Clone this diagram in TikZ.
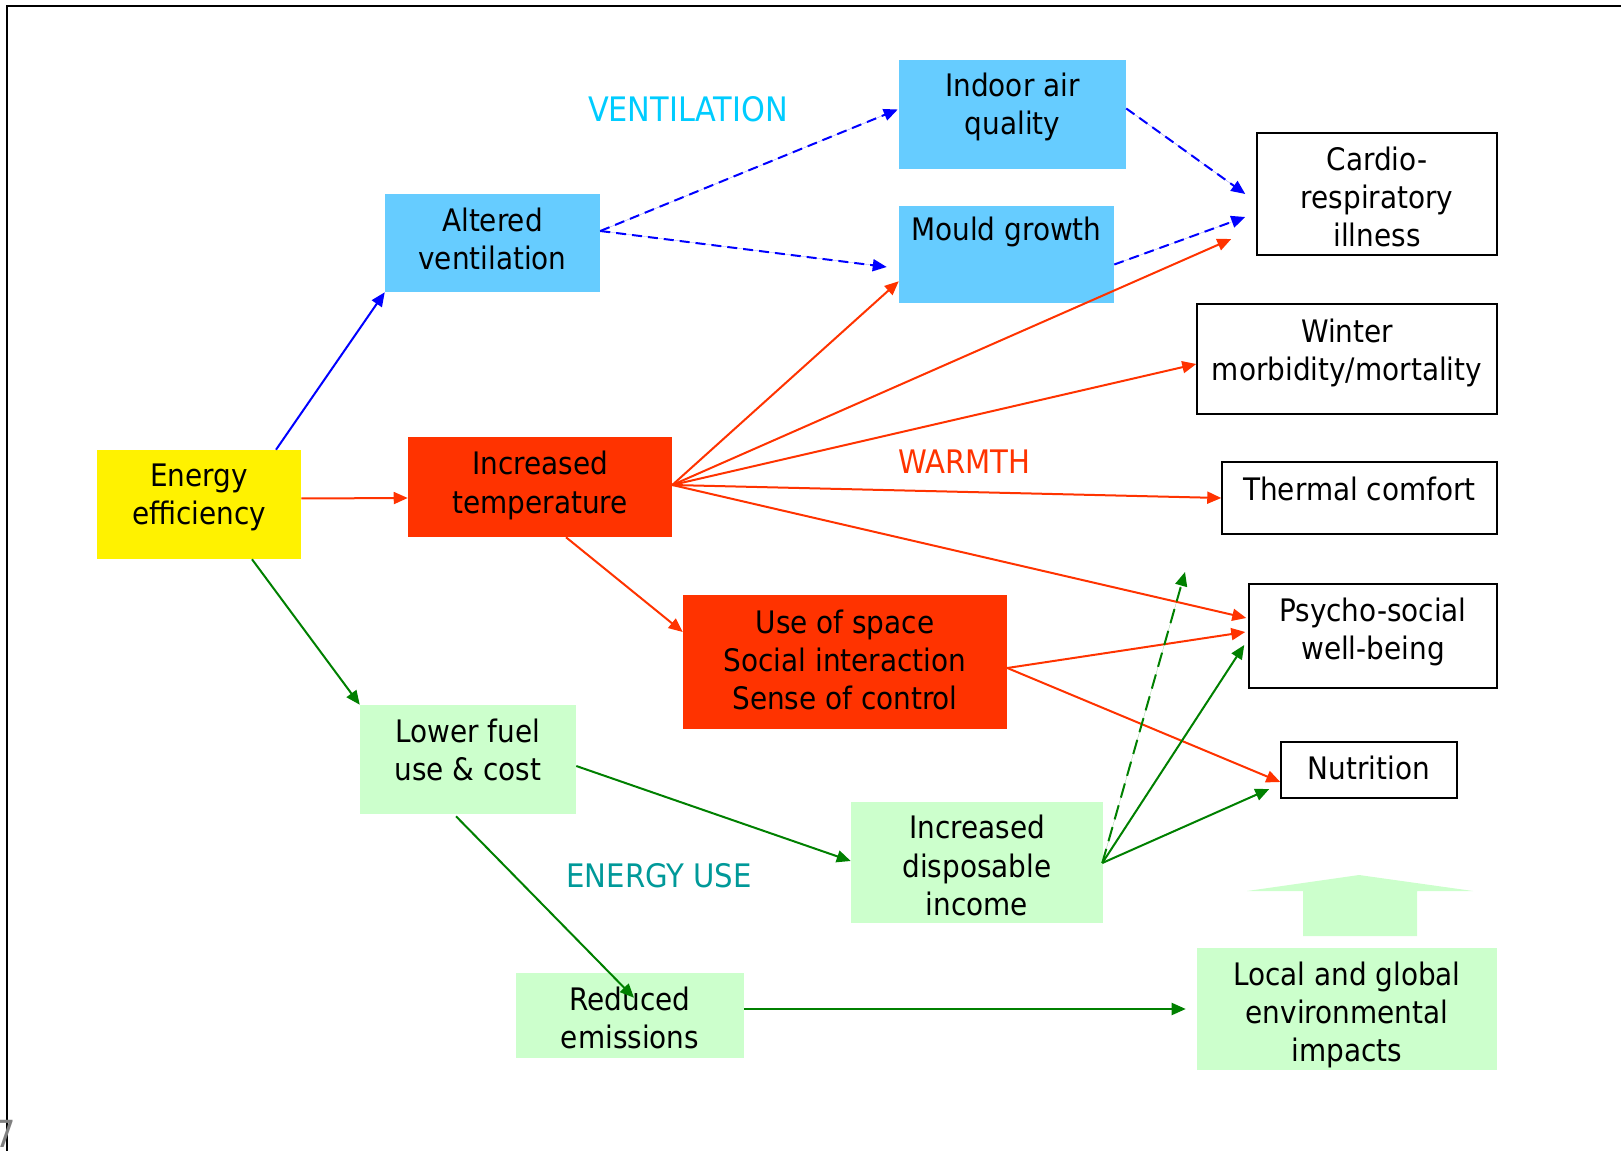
\documentclass[tikz,border=0pt]{standalone}
\usepackage{fontspec}
\setmainfont{DejaVu Sans Condensed}
\usetikzlibrary{arrows.meta,calc}
\definecolor{skyfill}{HTML}{66CCFF}
\definecolor{heatred}{HTML}{FF3300}
\definecolor{mintfill}{HTML}{CCFFCC}
\definecolor{ventcyan}{HTML}{00CCFF}
\definecolor{usetal}{HTML}{009999}
\definecolor{linkgreen}{HTML}{008000}
\definecolor{linkblue}{HTML}{0000FF}
\tikzset{
  box/.style={draw=none, inner sep=0pt},
  outcome/.style={box, draw=black, line width=1.1pt, fill=white},
  txt/.style={align=center, inner sep=0pt, font=\fontsize{23.25pt}{28.6pt}\selectfont},
  % text set inside a box, raised by #1
  boxtext/.style args={#1:#2}{label={[txt, yshift=#1]center:{#2}}},
  tip/.style={-{Triangle[length=10.5pt,width=9pt]}},
  redlink/.style={tip, draw=heatred, fill=heatred, line width=1.5pt},
  bluelink/.style={tip, draw=linkblue, fill=linkblue, line width=1.5pt},
  greenlink/.style={tip, draw=linkgreen, fill=linkgreen, line width=1.5pt},
  blueflow/.style={bluelink, dash pattern=on 7.5pt off 4.5pt},
  theme/.style={font=\fontsize{24.3pt}{28pt}\selectfont, inner sep=0pt}
}
\begin{document}
\begin{tikzpicture}[x=0.75pt,y=-0.75pt]
\useasboundingbox (0,0) rectangle (1621,1151);
% frame
\draw[line width=1.3pt] (7,1151) -- (7,6) -- (1621,6);
\node[text=gray, font=\fontsize{28pt}{30pt}\selectfont, inner sep=0pt] (pagenum) at (5,1134) {7};

% boxes (sizes in pt, centres in picture units)
\node[box, fill=yellow, minimum width=153pt, minimum height=81.75pt,
  boxtext={5.4pt:Energy\\efficiency}] (ee) at (199,504.5) {};
\node[box, fill=skyfill, minimum width=161.25pt, minimum height=73.5pt,
  boxtext={3.1pt:Altered\\ventilation}] (av) at (492.5,243) {};
\node[box, fill=skyfill, minimum width=170.25pt, minimum height=81.75pt,
  boxtext={5.4pt:Indoor air\\quality}] (iaq) at (1012.5,114.5) {};
\node[box, fill=skyfill, minimum width=161.25pt, minimum height=72.75pt,
  boxtext={17pt:Mould growth}] (mould) at (1006.5,254.5) {};
\node[outcome, minimum width=180pt, minimum height=91.5pt,
  boxtext={-2.3pt:Cardio-\\respiratory\\illness}] (cardio) at (1377,194) {};
\node[outcome, minimum width=225pt, minimum height=82.5pt,
  boxtext={4.7pt:Winter\\morbidity/mortality}] (winter) at (1347,359) {};
\node[outcome, minimum width=206.25pt, minimum height=54pt,
  boxtext={7pt:Thermal comfort}] (thermal) at (1359.5,498) {};
\node[outcome, minimum width=186pt, minimum height=78pt,
  boxtext={3.1pt:Psycho-social\\well-being}] (psycho) at (1373,636) {};
\node[outcome, minimum width=132pt, minimum height=42pt,
  boxtext={1.6pt:Nutrition}] (nutr) at (1369,770) {};
\node[box, fill=heatred, minimum width=198pt, minimum height=75pt,
  boxtext={1.2pt:Increased\\temperature}] (temp) at (540,487) {};
\node[box, fill=heatred, minimum width=243pt, minimum height=100.5pt,
  boxtext={1.6pt:Use of space\\Social interaction\\Sense of control}] (space) at (845,662) {};
\node[box, fill=mintfill, minimum width=162pt, minimum height=81.75pt,
  boxtext={7.4pt:Lower fuel\\use \& cost}] (fuel) at (468,759.5) {};
\node[box, fill=mintfill, minimum width=189pt, minimum height=90.75pt,
  boxtext={-2.3pt:Increased\\disposable\\income}] (income) at (977,862.5) {};
\node[box, fill=mintfill, minimum width=171pt, minimum height=63.75pt,
  boxtext={-1.9pt:Reduced\\emissions}] (emis) at (630,1015.5) {};
\node[box, fill=mintfill, minimum width=225pt, minimum height=91.5pt,
  boxtext={-4.7pt:Local and global\\environmental\\impacts}] (impact) at (1347,1009) {};

% upward block arrow above the environmental box
\fill[mintfill] (1303,936) -- (1303,891) -- (1247,891) -- (1359,875) -- (1473,891) -- (1417,891) -- (1417,936) -- cycle;

% theme labels
\node[theme, text=ventcyan, font=\fontsize{25.3pt}{28pt}\selectfont] (ventlabel) at (688,109) {VENTILATION};
\node[theme, text=heatred] (warmlabel) at (964.5,462) {WARMTH};
\node[theme, text=usetal] (uselabel) at (659,876) {ENERGY USE};

% energy efficiency links
\draw[bluelink] ($(ee.north)+(77,0)$) -- (av.south west);
\draw[redlink] ($(ee.east)+(0,-6)$) -- ($(temp.west)+(0,11)$);
\draw[greenlink] ($(ee.south)+(53,0)$) -- (fuel.north west);

% ventilation pathway
\draw[blueflow] ($(av.east)+(0,-12)$) -- ($(iaq.west)+(-1,-5)$);
\draw[blueflow] ($(av.east)+(0,-12)$) -- ($(mould.west)+(-12,12.5)$);
\draw[blueflow] ($(iaq.east)+(0,-6)$) -- ($(cardio.west)+(-11,0)$);
\draw[blueflow] ($(mould.east)+(0,10)$) -- ($(cardio.west)+(-11,23)$);

% warmth pathway
\coordinate (tempout) at ($(temp.east)+(0,-2)$);
\draw[redlink] (tempout) -- ($(mould.south west)+(0,-22)$);
\draw[redlink] (tempout) -- ($(cardio.west)+(-25,45)$);
\draw[redlink] (tempout) -- ($(winter.west)+(0,5)$);
\draw[redlink] (tempout) -- (thermal.west);
\draw[redlink] (tempout) -- ($(psycho.west)+(-2,-18)$);
\draw[redlink] ($(temp.south)+(26,0)$) -- ($(space.west)+(0,-30)$);
\draw[redlink] ($(space.east)+(0,6)$) -- ($(psycho.west)+(-3,-4)$);
\draw[redlink] ($(space.east)+(0,6)$) -- ($(nutr.west)+(0,12)$);

% energy use pathway
\draw[greenlink] ($(fuel.east)+(0,6.5)$) -- ($(income.west)+(0,-1.5)$);
\draw[greenlink] ($(fuel.south)+(-12,2)$) -- ($(emis.north)+(4,25)$);
\draw[greenlink] ($(emis.east)+(0,-6.5)$) -- ($(impact.west)+(-11,0)$);
\coordinate (incomeout) at ($(income.east)+(-1,0.5)$);
\coordinate (openend) at (1185,572);
\draw[greenlink, dash pattern=on 11pt off 6pt] (incomeout) -- (openend);
\draw[greenlink] (incomeout) -- ($(psycho.west)+(-4,9)$);
\draw[greenlink] (incomeout) -- ($(nutr.west)+(-11,19)$);
\end{tikzpicture}
\end{document}
